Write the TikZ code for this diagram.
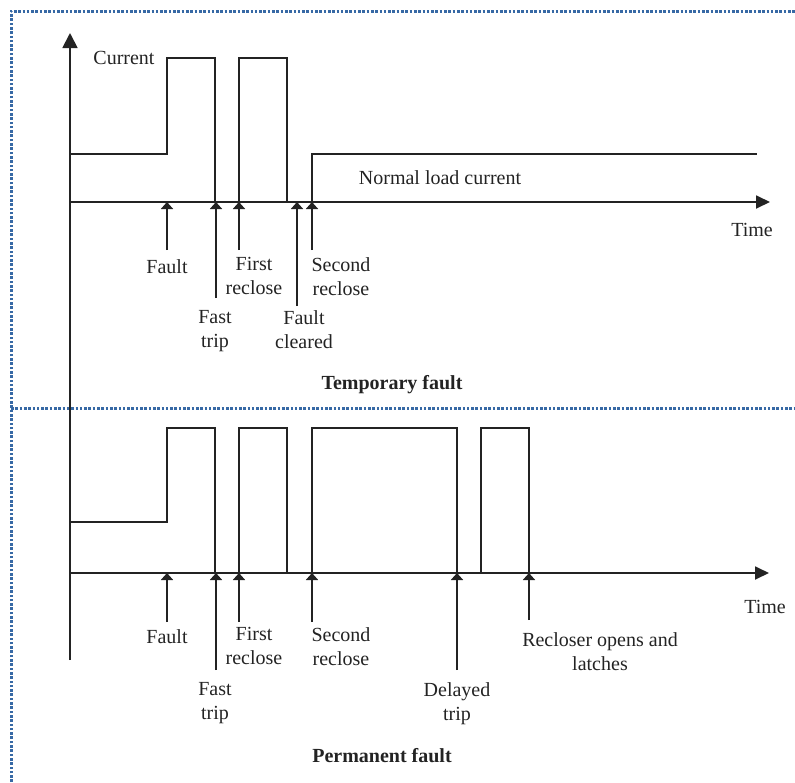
\documentclass[tikz,border=0pt]{standalone}
\usepackage{fontspec}
\setmainfont{Liberation Serif}
\usetikzlibrary{arrows.meta}
\definecolor{ink}{RGB}{35,35,35}
\definecolor{frameblue}{RGB}{55,105,165}

\begin{document}
\begin{tikzpicture}[x=1pt,y=-1pt,
  axis/.style={draw=ink,line width=1.8pt,-{Triangle[width=13pt,length=14pt]}},
  wave/.style={draw=ink,line width=2pt,line join=miter},
  marker/.style={draw=ink,line width=1.8pt,-{Triangle[width=12pt,length=7pt]}},
  lbl/.style={text=ink,inner sep=0pt,font=\fontsize{20}{24}\selectfont},
  mlbl/.style={lbl,align=center,anchor=north},
  heading/.style={lbl,font=\fontsize{20}{24}\selectfont\bfseries},
  frame/.style={draw=frameblue,line width=3pt,dash pattern=on 2.6pt off 1.7pt}]

\useasboundingbox (0,0) rectangle (795,782);

% dotted frame and panel divider
\coordinate (fTL) at (11,11);
\coordinate (fTR) at (795,11);
\coordinate (fBL) at (11,782);
\coordinate (mL) at (11,408);
\coordinate (mR) at (795,408);
\draw[frame] (fBL) -- (fTL) -- (fTR);
\draw[frame] (mL) -- (mR);

% current axis (shared by both panels)
\coordinate (Ybot) at (70,660);
\coordinate (Ytop) at (70,33);
\draw[axis,-{Triangle[width=15pt,length=15pt]}] (Ybot) -- (Ytop);

% ---------------- temporary fault ----------------
\coordinate (O1) at (70,202);
\coordinate (T1) at (770,202);
\draw[axis] (O1) -- (T1);

\draw[wave] (70,154) -- (167,154) -- (167,58) -- (215,58) -- (215,202);
\draw[wave] (239,202) -- (239,58) -- (287,58) -- (287,202);
\draw[wave] (312,202) -- (312,154) -- (757,154);

\node[lbl] (cur) at (124,58) {Current};
\node[lbl] (nlc) at (440,178) {Normal load current};
\node[lbl] (time1) at (752,230) {Time};

\coordinate (a1s) at (167,250); \coordinate (a1e) at (167,202);
\coordinate (a2s) at (216,298); \coordinate (a2e) at (216,202);
\coordinate (a3s) at (239,250); \coordinate (a3e) at (239,202);
\coordinate (a4s) at (297,306); \coordinate (a4e) at (297,202);
\coordinate (a5s) at (312,250); \coordinate (a5e) at (312,202);
\draw[marker] (a1s) -- (a1e);
\draw[marker] (a2s) -- (a2e);
\draw[marker] (a3s) -- (a3e);
\draw[marker] (a4s) -- (a4e);
\draw[marker] (a5s) -- (a5e);

\node[lbl] (tFault) at (167,267) {Fault};
\node[mlbl] (tFirst) at (254,257) {First\\reclose};
\node[mlbl] (tSecond) at (341,257) {Second\\reclose};
\node[mlbl] (tFast) at (215,310) {Fast\\trip};
\node[mlbl] (tCleared) at (304,310) {Fault\\cleared};
\node[heading] (tTitle) at (392,385) {Temporary fault};

% ---------------- permanent fault ----------------
\coordinate (O2) at (70,573);
\coordinate (T2) at (769,573);
\draw[axis] (O2) -- (T2);

\draw[wave] (70,522) -- (167,522) -- (167,428) -- (215,428) -- (215,573);
\draw[wave] (239,573) -- (239,428) -- (287,428) -- (287,573);
\draw[wave] (312,573) -- (312,428) -- (457,428) -- (457,573);
\draw[wave] (481,573) -- (481,428) -- (529,428) -- (529,573);

\node[lbl] (time2) at (765,607) {Time};

\coordinate (b1s) at (167,622); \coordinate (b1e) at (167,573);
\coordinate (b2s) at (216,670); \coordinate (b2e) at (216,573);
\coordinate (b3s) at (239,622); \coordinate (b3e) at (239,573);
\coordinate (b4s) at (312,622); \coordinate (b4e) at (312,573);
\coordinate (b5s) at (457,670); \coordinate (b5e) at (457,573);
\coordinate (b6s) at (529,620); \coordinate (b6e) at (529,573);
\draw[marker] (b1s) -- (b1e);
\draw[marker] (b2s) -- (b2e);
\draw[marker] (b3s) -- (b3e);
\draw[marker] (b4s) -- (b4e);
\draw[marker] (b5s) -- (b5e);
\draw[marker] (b6s) -- (b6e);

\node[lbl] (pFault) at (167,637) {Fault};
\node[mlbl] (pFirst) at (254,627) {First\\reclose};
\node[mlbl] (pSecond) at (341,627) {Second\\reclose};
\node[mlbl] (pFast) at (215,682) {Fast\\trip};
\node[mlbl] (pDelayed) at (457,682) {Delayed\\trip};
\node[mlbl] (pLatch) at (600,632) {Recloser opens and\\latches};
\node[heading] (pTitle) at (382,756) {Permanent fault};

\end{tikzpicture}
\end{document}
